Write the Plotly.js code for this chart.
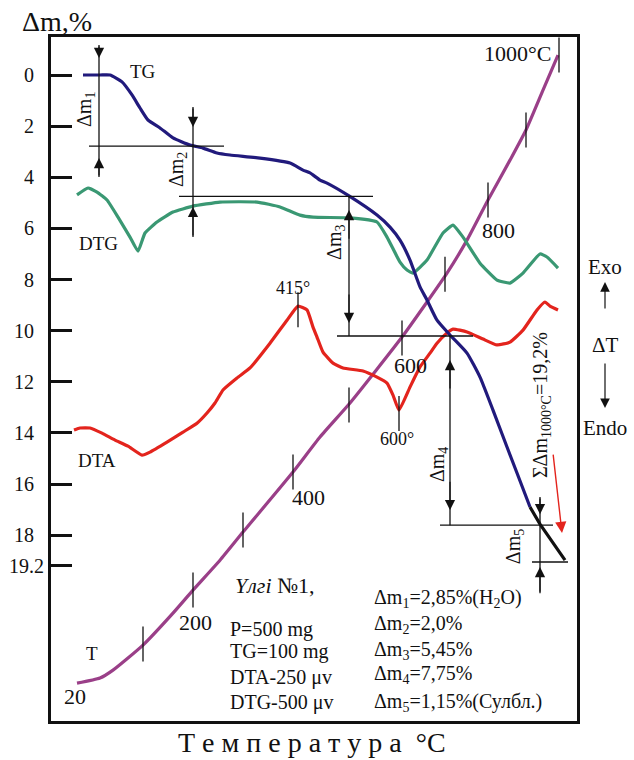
<!DOCTYPE html>
<html><head><meta charset="utf-8">
<script src="https://cdn.plot.ly/plotly-3.0.1.min.js"></script>
<style>html,body{margin:0;padding:0;background:#fff}</style>
</head><body><div id="chart" style="width:634px;height:760px"></div>
<script>
// ---- data (x: recording position, y: Δm % axis units) ----
const tgX = [83,100,110,122,132,140,148,160,173,190,203,217,230,260,290,303,310,320,327,349,377,390,400,410,420,427,437,450,467,480,493,507,517,530];
const tgY = [0,0,0,0.27,0.78,1.29,1.76,2.07,2.46,2.74,2.86,3.05,3.13,3.25,3.44,3.72,3.83,4.11,4.23,4.73,5.48,5.95,6.46,7.24,8.29,8.80,9.59,10.17,10.88,11.82,13.11,14.55,15.57,16.90];
const sublX = [530,540,565];
const sublY = [16.90,17.57,18.98];
const dtgX = [77,88,97,107,118,130,138,145,157,173,193,220,257,280,300,313,350,377,387,400,407,413,427,443,453,463,480,497,510,523,540,547,558];
const dtgY = [4.69,4.42,4.58,4.89,5.56,6.34,6.89,6.18,5.75,5.36,5.13,4.97,4.97,5.16,5.48,5.56,5.59,5.75,6.34,7.32,7.63,7.75,7.24,6.18,5.87,6.34,7.36,8.02,8.14,7.75,7.00,7.12,7.55];
const dtaX = [74,80,90,102,115,128,142,150,167,183,197,207,215,223,237,250,270,287,298,307,313,317,323,333,343,363,377,387,393,399,410,420,430,437,447,453,467,483,497,510,523,537,545,550,558];
const dtaY = [13.89,13.81,13.81,14.01,14.28,14.52,14.87,14.75,14.36,13.97,13.62,13.22,12.83,12.32,11.85,11.46,10.49,9.59,9.04,9.19,9.86,10.25,10.84,11.27,11.46,11.58,11.82,12.05,12.52,13.11,12.21,11.42,10.88,10.49,10.09,9.94,10.05,10.33,10.56,10.45,9.98,9.19,8.88,9.04,9.19];
const tX = [77,100,113,143,173,193,220,243,293,320,350,402,447,467,488,510,526,543,558];
const tY = [23.79,23.59,23.28,22.30,21.05,20.15,18.98,17.88,15.53,14.16,12.83,10.25,7.75,6.46,4.89,3.33,2.15,0.59,-0.78];
// temperature marks on T curve (every 100 °C)
const tMarkTemp = [100,200,300,400,500,600,700,800,900,1000];
const tMarkX = [143,193,243,293,349,402,445,488,526,559];
const tMarkY = [22.26,20.15,17.80,15.53,12.91,10.29,7.79,4.89,2.15,-0.78];
const tLabels = ['20','200','400','600','800','1000°C'];
const tLabelX = [75,195,308,410,498,517];
const tLabelY = [24.33,21.40,16.51,11.38,6.10,-0.86];
// DTA peaks
const dtaPeakText = ['415°','600°'];
const dtaPeakX = [298,399];
const dtaPeakY = [9.18,13.24];
// Mass-loss steps
const stepLevels = [0,2.78,4.75,10.21,17.61,19.05];
const stepNames = ['Δm<sub>1</sub>','Δm<sub>2</sub>','Δm<sub>3</sub>','Δm<sub>4</sub>','Δm<sub>5</sub>'];
const stepValues = ['2,85%(H<sub>2</sub>O)','2,0%','5,45%','7,75%','1,15%(Сулбл.)'];
const totalLoss = '19,2%';
const yTicks = [0,2,4,6,8,10,12,14,16,18,19.2];
const yTickText = ['0','2','4','6','8','10','12','14','16','18','19.2'];
const sampleInfo = ['P=500 mg','TG=100 mg','DTA-250 μv','DTG-500 μv'];

const FONT = 'Liberation Serif, Times New Roman, serif';
const cTG = '#211a7c', cDTG = '#3a9873', cDTA = '#e3241d', cT = '#9a3f88';

const traces = [
  {x:tX,y:tY,mode:'lines',line:{color:cT,width:3.2,shape:'spline',smoothing:0.5},hoverinfo:'skip'},
  {x:dtaX,y:dtaY,mode:'lines',line:{color:cDTA,width:3.2,shape:'spline',smoothing:0.4},hoverinfo:'skip'},
  {x:dtgX,y:dtgY,mode:'lines',line:{color:cDTG,width:3.2,shape:'spline',smoothing:0.4},hoverinfo:'skip'},
  {x:tgX,y:tgY,mode:'lines',line:{color:cTG,width:3.2,shape:'spline',smoothing:0.5},hoverinfo:'skip'},
  {x:sublX,y:sublY,mode:'lines',line:{color:'#111',width:3.2},hoverinfo:'skip'},
  {x:tMarkX,y:tMarkY,text:tMarkTemp.map(String),mode:'markers',marker:{symbol:'line-ns-open',size:25,color:'#111',line:{color:'#111',width:1.3}},hoverinfo:'skip'},
  {x:dtaPeakX,y:dtaPeakY,mode:'markers',marker:{symbol:'line-ns-open',size:25,color:'#111',line:{color:'#111',width:1.3}},hoverinfo:'skip'}
];

// dimension lines
const vx = [99,193,349,450,540];
const vTop = [-1.17,1.25,4.73,10.21,16.51];
const vBot = [3.99,6.34,10.21,17.61,20.27];
const hx0 = [89,179,337,440,532];
const hx1 = [224,373,473,553,568];
const shapes = [];
for (let i=0;i<5;i++){
  shapes.push({type:'line',xref:'x',yref:'y',x0:vx[i],x1:vx[i],y0:vTop[i],y1:vBot[i],line:{color:'#111',width:1.3}});
  shapes.push({type:'line',xref:'x',yref:'y',x0:hx0[i],x1:hx1[i],y0:stepLevels[i+1],y1:stepLevels[i+1],line:{color:'#111',width:1.3}});
}

const ann = [];
const arrow = (x,tip,tail,color)=>({x:x,y:tip,ax:x,ay:tail,axref:'x',ayref:'y',xref:'x',yref:'y',text:'',showarrow:true,arrowhead:2,arrowsize:1.7,arrowwidth:1.2,arrowcolor:color||'#111',standoff:0,startstandoff:0});
const arrTip1 = [-0.67,2.03,5.28,11.15,17.18];
const arrTail1 = [-1.17,1.25,6.46,12.32,16.51];
const arrTip2 = [3.25,5.16,9.70,17.02,19.25];
const arrTail2 = [3.99,6.34,8.53,15.85,20.27];
for (let i=0;i<5;i++){ ann.push(arrow(vx[i],arrTip1[i],arrTail1[i])); ann.push(arrow(vx[i],arrTip2[i],arrTail2[i])); }
// red arrow
ann.push({x:562,y:17.92,ax:553,ay:14.79,axref:'x',ayref:'y',xref:'x',yref:'y',text:'',showarrow:true,arrowhead:2,arrowsize:1.6,arrowwidth:1.4,arrowcolor:cDTA,standoff:0});

const txt = (t,x,y,size,extra)=>Object.assign({x:x,y:y,xref:'x',yref:'y',text:t,showarrow:false,font:{family:FONT,size:size,color:'#111'}},extra||{});
// rotated step labels
const stepLabX = [85,177,336,438,514];
const stepLabY = [1.37,3.72,6.57,15.26,18.47];
for (let i=0;i<5;i++) ann.push(txt(stepNames[i],stepLabX[i],stepLabY[i],20,{textangle:-90}));
ann.push(txt('ΣΔm<sub>1000°C</sub>='+totalLoss,541,12.91,20,{textangle:-90}));
// curve labels
ann.push(txt('TG',143,-0.12,19));
ann.push(txt('DTG',98,6.61,19));
ann.push(txt('DTA',97,15.06,19));
ann.push(txt('T',92,22.61,19));
for (let i=0;i<tLabels.length;i++) ann.push(txt(tLabels[i],tLabelX[i],tLabelY[i],22));
ann.push(txt(dtaPeakText[0],293,8.33,18));
ann.push(txt(dtaPeakText[1],397,14.24,18));
// info block
ann.push(txt('<i>Үлгі</i> №1,',233,19.95,22,{xanchor:'left'}));
const infoY = [21.71,22.57,23.55,24.53];
for (let i=0;i<4;i++) ann.push(txt(sampleInfo[i],228,infoY[i],20,{xanchor:'left'}));
const resY = [20.46,21.48,22.50,23.47,24.53];
for (let i=0;i<5;i++) ann.push(txt(stepNames[i]+'='+stepValues[i],372,resY[i],20,{xanchor:'left'}));
// Exo / Endo
const px = (605-51)/526;
const side = (t,y)=>({xref:'paper',yref:'y',x:px,y:y,xanchor:'center',yanchor:'middle',text:t,showarrow:false,font:{family:FONT,size:21,color:'#111'}});
ann.push(side('Exo',7.51));
ann.push(side('ΔT',10.56));
ann.push(side('Endo',13.81));
ann.push({xref:'paper',yref:'y',x:px,y:8.10,ax:0,ay:9.19,axref:'pixel',ayref:'y',text:'',showarrow:true,arrowhead:2,arrowsize:1.6,arrowwidth:1.2,arrowcolor:'#111',standoff:0});
ann.push({xref:'paper',yref:'y',x:px,y:13.03,ax:0,ay:11.23,axref:'pixel',ayref:'y',text:'',showarrow:true,arrowhead:2,arrowsize:1.6,arrowwidth:1.2,arrowcolor:'#111',standoff:0});
// axis titles
ann.push({xref:'paper',yref:'paper',x:(20-51)/526,y:(721-21)/684,xanchor:'left',yanchor:'middle',text:'Δm,%',showarrow:false,font:{family:FONT,size:28,color:'#111'}});
ann.push({xref:'paper',yref:'paper',x:(312-51)/526,y:(721-742)/684,xanchor:'center',yanchor:'middle',text:'Т е м п е р а т у р а  °C',showarrow:false,font:{family:FONT,size:28,color:'#111'}});

// labels other than the last sit a little further from the axis in the original
const NB = '\u00a0\u00a0';
const tickTextShown = yTickText.map((t,i)=> i<yTickText.length-1 ? t+NB : t);

const layout = {
  width:634,height:760,
  margin:{l:51,r:57,t:37,b:39},
  paper_bgcolor:'#fff',plot_bgcolor:'#fff',
  showlegend:false,
  font:{family:FONT,color:'#111'},
  xaxis:{range:[51,577],showgrid:false,zeroline:false,showticklabels:false,ticks:'',showline:true,mirror:true,linecolor:'#111',linewidth:2.6,fixedrange:true,automargin:false},
  yaxis:{range:[25.27,-1.487],showgrid:false,zeroline:false,tickmode:'array',tickvals:yTicks,ticktext:tickTextShown,ticks:'inside',ticklen:21,tickwidth:3,tickcolor:'#111',
         showline:true,mirror:true,linecolor:'#111',linewidth:3,tickfont:{family:FONT,size:20,color:'#111'},fixedrange:true,automargin:false},
  shapes:shapes,
  annotations:ann
};
Plotly.newPlot('chart',traces,layout,{staticPlot:true,displayModeBar:false});
</script></body></html>
